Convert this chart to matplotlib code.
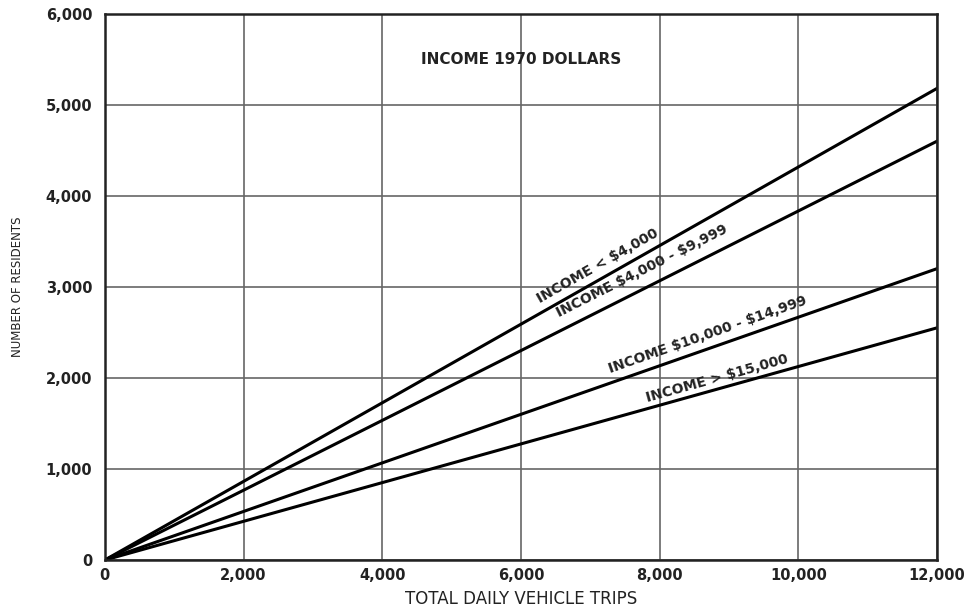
import numpy as np
import matplotlib.pyplot as plt

# values read at the right edge (12,000 trips); lines start at the origin
trips = [0, 12000]
income_labels = ["INCOME < $4,000", "INCOME $4,000 - $9,999",
                 "INCOME $10,000 - $14,999", "INCOME > $15,000"]
residents_at_end = [5180, 4600, 3200, 2550]
label_x = [7100, 7750, 8700, 8830]
label_y = [3230, 3170, 2470, 1990]

x_ticks = [0, 2000, 4000, 6000, 8000, 10000, 12000]
y_ticks = [0, 1000, 2000, 3000, 4000, 5000, 6000]

fig = plt.figure(figsize=(9.71, 6.07), dpi=100)
ax = fig.add_axes([0.108, 0.0774, 0.857, 0.9])

ax.set_xlim(0, 12000)
ax.set_ylim(0, 6000)
ax.set_xticks(x_ticks)
ax.set_yticks(y_ticks)
ax.set_xticklabels([f"{v:,}" for v in x_ticks])
ax.set_yticklabels([f"{v:,}" for v in y_ticks])
ax.grid(True, color='#666666', linewidth=1.2)
ax.set_axisbelow(True)

for end in residents_at_end:
    ax.plot(trips, [0, end], color='black', linewidth=2.2)

for lab, end, lx, ly in zip(income_labels, residents_at_end, label_x, label_y):
    ang = np.degrees(np.arctan2(end, trips[1]))
    ax.text(lx, ly, lab, rotation=ang, transform_rotates_text=True,
            rotation_mode='anchor', ha='center', va='center', parse_math=False,
            fontsize=10, color='#222222', fontweight='bold')

ax.text(6000, 5500, "INCOME 1970 DOLLARS", ha='center', va='center',
        fontsize=11, color='#222222', fontweight='bold')

ax.set_xlabel("TOTAL DAILY VEHICLE TRIPS", fontsize=12, color='#222222', labelpad=5)
ax.set_ylabel("NUMBER OF RESIDENTS", fontsize=8.5, color='#222222', labelpad=16)

ax.tick_params(length=0, labelsize=10.5, colors='#222222')
ax.tick_params(axis='y', pad=9)
ax.tick_params(axis='x', pad=6)
for lbl in ax.get_xticklabels() + ax.get_yticklabels():
    lbl.set_fontweight('bold')
for spine in ax.spines.values():
    spine.set_linewidth(1.8)
    spine.set_color('#222222')

plt.savefig("out.png", dpi=100)
plt.close()
